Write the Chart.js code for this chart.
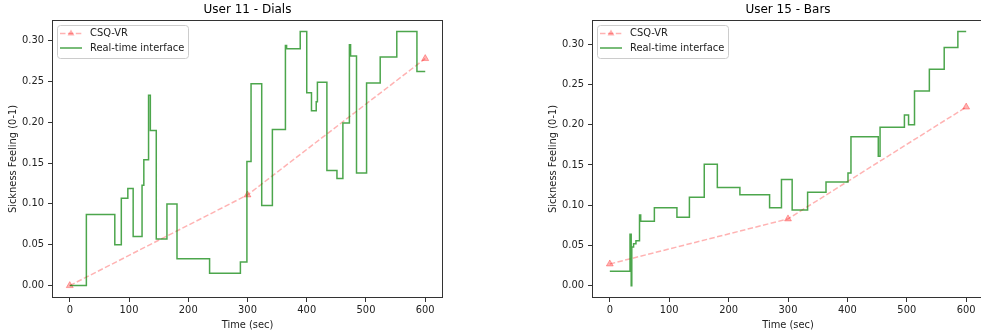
<!DOCTYPE html>
<html>
<head>
<meta charset="utf-8">
<script src="https://cdn.jsdelivr.net/npm/chart.js@4.4.1/dist/chart.umd.min.js"></script>
<style>
html, body { margin: 0; padding: 0; background: #fff; overflow: hidden; }
#wrap { position: relative; width: 1000px; height: 335px; }
canvas { position: absolute; top: 0; }
#dials { left: 0; }
#bars { left: 540px; }
</style>
</head>
<body>
<div id="wrap">
<canvas id="dials" width="490" height="335"></canvas>
<canvas id="bars" width="450" height="335"></canvas>
</div>
<script>
// CSQ-VR questionnaire (start, middle, end of session)
var csqTime = [0, 300, 600];
var dialsCsq = [0.0, 0.111, 0.278];
var barsCsq = [0.027, 0.083, 0.222];

// real-time interface - value holds until the next change
var dialsTime = [0, 28, 76, 87, 98, 107, 122, 125, 133, 136, 146, 164, 181, 236, 288, 299, 306, 324, 342, 364,
    366, 389, 400, 408, 416, 418, 434, 451, 461, 472, 474, 484, 501, 524, 552, 586, 600];
var dialsValue = [0.000, 0.087, 0.050, 0.107, 0.119, 0.060, 0.123, 0.154, 0.233, 0.190, 0.057, 0.100, 0.033, 0.015, 0.029, 0.152, 0.247, 0.098, 0.191, 0.294,
    0.290, 0.311, 0.236, 0.214, 0.225, 0.249, 0.141, 0.131, 0.199, 0.295, 0.281, 0.138, 0.248, 0.280, 0.311, 0.262, 0.262];

var barsTime = [0, 34, 36, 37, 40, 44, 50, 52, 75, 113, 134, 159, 181, 219, 269, 289, 307, 333, 364, 401,
    406, 452, 455, 496, 503, 513, 538, 563, 586, 600];
var barsValue = [0.018, 0.064, 0.000, 0.048, 0.052, 0.056, 0.088, 0.080, 0.097, 0.085, 0.110, 0.151, 0.122, 0.113, 0.097, 0.132, 0.094, 0.116, 0.129, 0.140,
    0.185, 0.161, 0.197, 0.212, 0.200, 0.242, 0.269, 0.296, 0.316, 0.316];

// tick labels
var xTicks = [0, 100, 200, 300, 400, 500, 600];
var yTicks = [0, 0.05, 0.10, 0.15, 0.20, 0.25, 0.30];

var FONT = "'DejaVu Sans', sans-serif";
var TEXT = "#222";
var CSQ_COLOR = "rgba(255,0,0,0.3)";
var RT_COLOR = "rgba(0,128,0,0.7)";

function points(xs, ys) {
    return xs.map(function (x, i) { return { x: x, y: ys[i] }; });
}

// box round the axes + legend in the upper left corner (matplotlib style)
var frameLegend = {
    id: "frameLegend",
    afterDatasetsDraw: function (chart) {
        var a = chart.chartArea, ctx = chart.ctx;
        ctx.save();
        ctx.strokeStyle = "#333";
        ctx.lineWidth = 1;
        ctx.strokeRect(a.left + 0.5, a.top + 0.5, a.right - a.left - 1, a.bottom - a.top - 1);

        var bx = a.left + 5, by = a.top + 5, bw = 131, bh = 33;
        ctx.beginPath();
        ctx.roundRect(bx + 0.5, by + 0.5, bw, bh, 3);
        ctx.fillStyle = "rgba(255,255,255,0.8)";
        ctx.fill();
        ctx.strokeStyle = "#cccccc";
        ctx.stroke();

        var ds = chart.data.datasets;
        ctx.font = "9.9px " + FONT;
        ctx.textBaseline = "middle";
        ctx.fillStyle = TEXT;

        // CSQ-VR entry
        var y1 = by + 8.5;
        ctx.strokeStyle = CSQ_COLOR;
        ctx.lineWidth = 1.5;
        ctx.setLineDash([5.5, 2.4]);
        ctx.beginPath();
        ctx.moveTo(bx + 3, y1);
        ctx.lineTo(bx + 25, y1);
        ctx.stroke();
        ctx.setLineDash([]);
        ctx.beginPath();
        ctx.moveTo(bx + 14, y1 - 4);
        ctx.lineTo(bx + 17.5, y1 + 2);
        ctx.lineTo(bx + 10.5, y1 + 2);
        ctx.closePath();
        ctx.fillStyle = CSQ_COLOR;
        ctx.fill();
        ctx.fillStyle = TEXT;
        ctx.fillText(ds[1].label, bx + 33, y1);

        // real-time entry
        var y2 = by + 23;
        ctx.strokeStyle = RT_COLOR;
        ctx.beginPath();
        ctx.moveTo(bx + 3, y2);
        ctx.lineTo(bx + 25, y2);
        ctx.stroke();
        ctx.fillText(ds[0].label, bx + 33, y2);
        ctx.restore();
    }
};

function makeChart(id, title, time, value, csq, yMin, yMax, padRight) {
    return new Chart(document.getElementById(id), {
        type: "line",
        data: {
            datasets: [
                {
                    label: "Real-time interface",
                    data: points(time, value),
                    borderColor: RT_COLOR,
                    borderWidth: 1.5,
                    pointRadius: 0,
                    stepped: true,
                    fill: false,
                },
                {
                    label: "CSQ-VR",
                    data: points(csqTime, csq),
                    borderColor: CSQ_COLOR,
                    borderWidth: 1.5,
                    borderDash: [5.5, 2.4],
                    pointStyle: "triangle",
                    pointRadius: 4,
                    pointBackgroundColor: CSQ_COLOR,
                    pointBorderColor: CSQ_COLOR,
                    pointBorderWidth: 1,
                    fill: false,
                },
            ],
        },
        options: {
            responsive: false,
            animation: false,
            devicePixelRatio: 1,
            layout: { padding: { left: 0, right: padRight, top: 0, bottom: 0 } },
            plugins: {
                legend: { display: false },
                tooltip: { enabled: false },
                title: {
                    display: true,
                    text: title,
                    fullSize: false,
                    color: "#000",
                    font: { family: FONT, size: 12, weight: "normal" },
                    padding: { top: 2.6, bottom: 3 },
                },
            },
            scales: {
                x: {
                    type: "linear",
                    min: -30,
                    max: 630,
                    afterBuildTicks: function (s) { s.ticks = xTicks.map(function (v) { return { value: v }; }); },
                    afterFit: function (s) { s.height = 37; },
                    grid: { drawOnChartArea: false, drawTicks: true, tickLength: 4, color: "#333" },
                    border: { display: false },
                    ticks: {
                        autoSkip: false, maxRotation: 0, padding: 2, color: TEXT,
                        font: { family: FONT, size: 9.9 },
                        callback: function (v) { return String(v); },
                    },
                    title: { display: true, text: "Time (sec)", color: TEXT, font: { family: FONT, size: 9.9 }, padding: { top: 0, bottom: 4 } },
                },
                y: {
                    type: "linear",
                    min: yMin,
                    max: yMax,
                    afterBuildTicks: function (s) { s.ticks = yTicks.map(function (v) { return { value: v }; }); },
                    afterFit: function (s) { s.width = 52; },
                    grid: { drawOnChartArea: false, drawTicks: true, tickLength: 4, color: "#333" },
                    border: { display: false },
                    ticks: {
                        padding: 4, color: TEXT,
                        font: { family: FONT, size: 9.9 },
                        callback: function (v) { return Number(v).toFixed(2); },
                    },
                    title: { display: true, text: "Sickness Feeling (0-1)", color: TEXT, font: { family: FONT, size: 9.9 }, padding: { top: 7, bottom: 0 } },
                },
            },
        },
        plugins: [frameLegend],
    });
}

makeChart("dials", "User 11 - Dials", dialsTime, dialsValue, dialsCsq, -0.0152, 0.3252, 47);
makeChart("bars", "User 15 - Bars", barsTime, barsValue, barsCsq, -0.0153, 0.3302, 6);
</script>
</body>
</html>
